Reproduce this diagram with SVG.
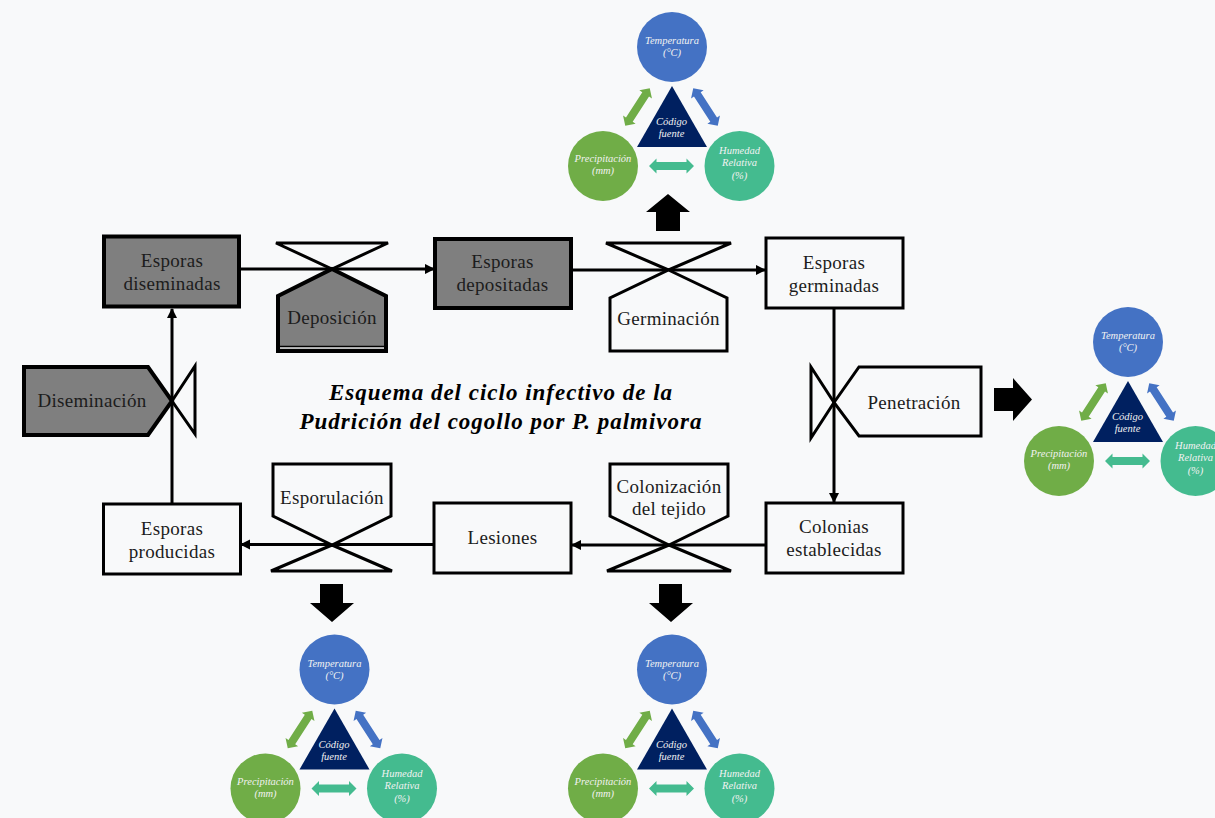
<svg xmlns="http://www.w3.org/2000/svg" width="1215" height="818" viewBox="0 0 1215 818">
<style>
.n{stroke:#000;stroke-width:3;fill:#f8f9fa;stroke-linejoin:miter}
.g{fill:#7f7f7f;stroke-width:4}
.v{stroke:#000;stroke-width:3;fill:none}
.l{font-family:"Liberation Serif",serif;font-size:19px;fill:#1c1c1c;text-anchor:middle;letter-spacing:.3px}
.t{font-family:"Liberation Serif",serif;font-size:23px;font-weight:bold;font-style:italic;fill:#000;text-anchor:middle;letter-spacing:1px}
.c{font-family:"Liberation Serif",serif;font-size:10.5px;font-style:italic;fill:#f2f2f2;text-anchor:middle}
.k{fill:#000}
.w{stroke:#000;stroke-width:3;fill:none}
</style>
<defs>
<marker id="a" viewBox="0 0 10 10" refX="9" refY="5" markerWidth="3.500" markerHeight="3.500" orient="auto"><path d="M0 0L10 5L0 10Z" fill="#000"/></marker>
<polygon id="d" points="-22.500,0 -15,-7.500 -15,-4 15,-4 15,-7.500 22.500,0 15,7.500 15,4 -15,4 -15,7.500"/>
<g id="m">
<circle cx="672" cy="47" r="35" fill="#4472c4"/>
<circle cx="603" cy="166" r="35" fill="#70ad47"/>
<circle cx="739.500" cy="166" r="35" fill="#44bb8f"/>
<polygon points="672,86 637,147 707,147" fill="#002060"/>
<use href="#d" transform="translate(637.500,107) rotate(-57)" fill="#70ad47"/>
<use href="#d" transform="translate(705.500,107) rotate(57)" fill="#4472c4"/>
<use href="#d" transform="translate(671.500,166)" fill="#44bb8f"/>
</g>
</defs>
<rect width="1215" height="818" fill="#f8f9fa"/>

<g id="connectors">
<line class="w" x1="240" y1="269" x2="434" y2="269" marker-end="url(#a)"/>
<line class="w" x1="571" y1="270" x2="765" y2="270" marker-end="url(#a)"/>
<line class="w" x1="834" y1="308" x2="834" y2="502" marker-end="url(#a)"/>
<line class="w" x1="766" y1="545" x2="572" y2="545" marker-end="url(#a)"/>
<line class="w" x1="434" y1="544.500" x2="241" y2="544.500" marker-end="url(#a)"/>
<line class="w" x1="172" y1="504" x2="172" y2="309" marker-end="url(#a)"/>
</g>

<g id="esporas-diseminadas"><rect class="n g" x="104" y="236.500" width="135" height="70"/><text class="l" x="172" y="267">Esporas</text><text class="l" x="172" y="290">diseminadas</text></g>
<g id="esporas-depositadas"><rect class="n g" x="435" y="239" width="136" height="69"/><text class="l" x="502.500" y="268">Esporas</text><text class="l" x="502.500" y="291">depositadas</text></g>
<g id="esporas-germinadas"><rect class="n" x="766" y="238" width="137" height="70"/><text class="l" x="834" y="269">Esporas</text><text class="l" x="834" y="292">germinadas</text></g>
<g id="colonias"><rect class="n" x="766" y="503" width="137" height="70"/><text class="l" x="834" y="533">Colonias</text><text class="l" x="834" y="556">establecidas</text></g>
<g id="lesiones"><rect class="n" x="434" y="503" width="137" height="70"/><text class="l" x="502.500" y="544">Lesiones</text></g>
<g id="esporas-producidas"><rect class="n" x="103.500" y="504" width="137" height="70"/><text class="l" x="172" y="535">Esporas</text><text class="l" x="172" y="558">producidas</text></g>

<g id="deposicion"><polygon class="v" points="276,243 388,243 332,269"/><polygon class="n g" points="332,269 386,296 386,351 278,351 278,296"/><line x1="280" y1="346.500" x2="384" y2="346.500" stroke="#000" stroke-width="1.500"/><line x1="280" y1="348" x2="384" y2="348" stroke="#f8f9fa" stroke-width="1"/><text class="l" x="332" y="324">Deposición</text></g>
<g id="germinacion"><polygon class="v" points="606,243 731,243 668.500,270"/><polygon class="n" points="668.500,270 727,298 727,351 610,351 610,298"/><text class="l" x="668.500" y="325">Germinación</text></g>
<g id="penetracion"><polygon class="v" points="811,367 811,438 834,402.500"/><polygon class="n" points="834,402.500 859,367 981,367 981,436 859,436"/><text class="l" x="914" y="409">Penetración</text></g>
<g id="diseminacion"><polygon class="v" points="195,366 195,434 172,401"/><polygon class="n g" points="24,367 148,367 172,401 148,435 24,435"/><text class="l" x="92" y="407">Diseminación</text></g>
<g id="esporulacion"><polygon class="n" points="273,464 391,464 391,516 332,545 273,516"/><polygon class="v" points="332,545 392,571 271,571"/><text class="l" x="332" y="504">Esporulación</text></g>
<g id="colonizacion"><polygon class="n" points="610,464 728,464 728,516 669,545 610,516"/><polygon class="v" points="669,545 731,571 607,571"/><text class="l" x="669" y="493">Colonización</text><text class="l" x="669" y="515">del tejido</text></g>

<text id="title" class="t"><tspan x="501" y="400">Esquema del ciclo infectivo de la</tspan><tspan x="501" y="429">Pudrición del cogollo por P. palmivora</tspan></text>

<g id="flecha-arriba"><polygon class="k" points="668,194 690,212 680,212 680,231 656,231 656,212 646,212"/></g>
<g id="flecha-derecha"><polygon class="k" points="1032,399.500 1013,378 1013,388 994,388 994,411 1013,411 1013,421"/></g>
<g id="flecha-abajo-1"><polygon class="k" points="332,622 354,603 343,603 343,584 320,584 320,603 310,603"/></g>
<g id="flecha-abajo-2"><polygon class="k" points="671,622 693,603 682,603 682,584 659,584 659,603 649,603"/></g>

<g id="clima-germinacion">
<use href="#m"/>
<text class="c" x="672" y="44">Temperatura</text><text class="c" x="672" y="56">(°C)</text>
<text class="c" x="603" y="162">Precipitación</text><text class="c" x="603" y="174">(mm)</text>
<text class="c" x="739.500" y="154">Humedad</text><text class="c" x="739.500" y="166">Relativa</text><text class="c" x="739.500" y="179">(%)</text>
<text class="c" x="671.500" y="125">Código</text><text class="c" x="671.500" y="137">fuente</text>
</g>
<g id="clima-penetracion" transform="translate(456,295)">
<use href="#m"/>
<text class="c" x="672" y="44">Temperatura</text><text class="c" x="672" y="56">(°C)</text>
<text class="c" x="603" y="162">Precipitación</text><text class="c" x="603" y="174">(mm)</text>
<text class="c" x="739.500" y="154">Humedad</text><text class="c" x="739.500" y="166">Relativa</text><text class="c" x="739.500" y="179">(%)</text>
<text class="c" x="671.500" y="125">Código</text><text class="c" x="671.500" y="137">fuente</text>
</g>
<g id="clima-esporulacion" transform="translate(-337.500,622.500)">
<use href="#m"/>
<text class="c" x="672" y="44">Temperatura</text><text class="c" x="672" y="56">(°C)</text>
<text class="c" x="603" y="162">Precipitación</text><text class="c" x="603" y="174">(mm)</text>
<text class="c" x="739.500" y="154">Humedad</text><text class="c" x="739.500" y="166">Relativa</text><text class="c" x="739.500" y="179">(%)</text>
<text class="c" x="671.500" y="125">Código</text><text class="c" x="671.500" y="137">fuente</text>
</g>
<g id="clima-colonizacion" transform="translate(0,622.500)">
<use href="#m"/>
<text class="c" x="672" y="44">Temperatura</text><text class="c" x="672" y="56">(°C)</text>
<text class="c" x="603" y="162">Precipitación</text><text class="c" x="603" y="174">(mm)</text>
<text class="c" x="739.500" y="154">Humedad</text><text class="c" x="739.500" y="166">Relativa</text><text class="c" x="739.500" y="179">(%)</text>
<text class="c" x="671.500" y="125">Código</text><text class="c" x="671.500" y="137">fuente</text>
</g>
</svg>
